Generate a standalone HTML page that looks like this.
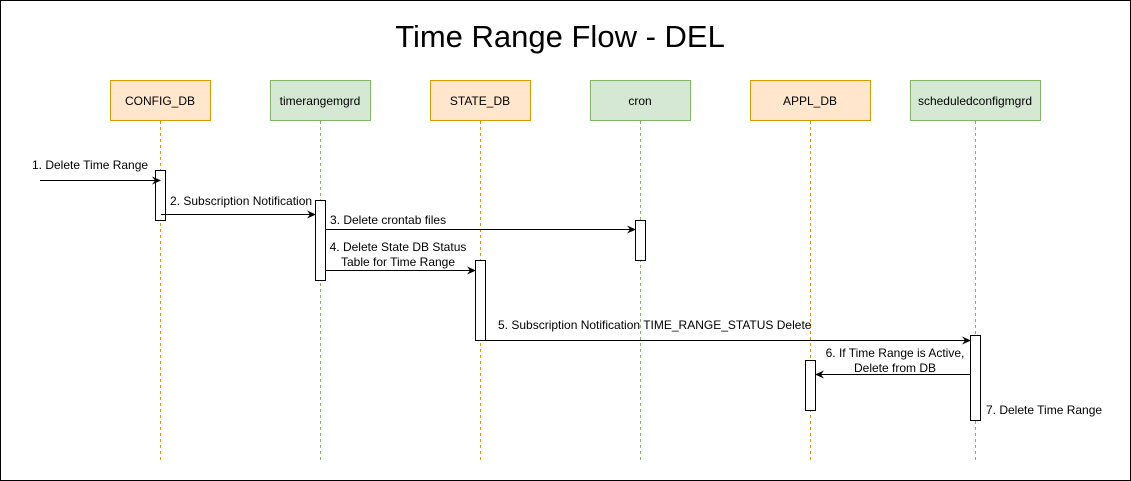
<!DOCTYPE html>
<html><head><meta charset="utf-8"><style>
html,body{margin:0;padding:0;background:#fff}
svg{display:block}
text{font-family:"Liberation Sans",Arial,sans-serif;font-size:12px;fill:#000}
</style></head><body>
<svg width="1131" height="481" viewBox="0 0 1131 481" xmlns="http://www.w3.org/2000/svg">
<defs><marker id="a" markerWidth="10" markerHeight="10" refX="8" refY="5" orient="auto" markerUnits="userSpaceOnUse"><path d="M0,1 L9,5 L0,9 L3,5 Z" fill="#000"/></marker></defs>
<rect x="0.5" y="0.5" width="1130" height="480" fill="#fff" stroke="#000"/>
<text x="560" y="47" text-anchor="middle" style="font-size:31px">Time Range Flow - DEL</text>
<g stroke-dasharray="3,3" stroke-width="1">
<line x1="160.5" y1="121" x2="160.5" y2="460" stroke="#d79b00"/>
<line x1="320.5" y1="121" x2="320.5" y2="460" stroke="#82b366"/>
<line x1="480.5" y1="121" x2="480.5" y2="460" stroke="#d79b00"/>
<line x1="640.5" y1="121" x2="640.5" y2="460" stroke="#82b366"/>
<line x1="810.5" y1="121" x2="810.5" y2="460" stroke="#d79b00"/>
<line x1="975.5" y1="121" x2="975.5" y2="460" stroke="#82b366"/>
</g>
<rect x="110.5" y="80.5" width="100" height="40" fill="#ffe6cc" stroke="#d79b00"/>
<text x="160" y="105" text-anchor="middle">CONFIG_DB</text>
<rect x="270.5" y="80.5" width="100" height="40" fill="#d5e8d4" stroke="#82b366"/>
<text x="320" y="105" text-anchor="middle">timerangemgrd</text>
<rect x="430.5" y="80.5" width="100" height="40" fill="#ffe6cc" stroke="#d79b00"/>
<text x="480" y="105" text-anchor="middle">STATE_DB</text>
<rect x="590.5" y="80.5" width="100" height="40" fill="#d5e8d4" stroke="#82b366"/>
<text x="640" y="105" text-anchor="middle">cron</text>
<rect x="750.5" y="80.5" width="120" height="40" fill="#ffe6cc" stroke="#d79b00"/>
<text x="810" y="105" text-anchor="middle">APPL_DB</text>
<rect x="910.5" y="80.5" width="130" height="40" fill="#d5e8d4" stroke="#82b366"/>
<text x="975" y="105" text-anchor="middle">scheduledconfigmgrd</text>
<g fill="#fff" stroke="#000">
<rect x="155.5" y="170.5" width="10" height="50"/>
<rect x="315.5" y="200.5" width="10" height="80"/>
<rect x="635.5" y="220.5" width="10" height="40"/>
<rect x="475.5" y="260.5" width="10" height="80"/>
<rect x="970.5" y="335.5" width="10" height="85"/>
<rect x="805.5" y="360.5" width="10" height="50"/>
</g>
<g stroke="#000" stroke-width="1" marker-end="url(#a)">
<line x1="40" y1="180.5" x2="160" y2="180.5"/>
<line x1="161" y1="214.5" x2="315" y2="214.5"/>
<line x1="326" y1="229.5" x2="635" y2="229.5"/>
<line x1="326" y1="270.5" x2="475" y2="270.5"/>
<line x1="486" y1="340.5" x2="970" y2="340.5"/>
<line x1="970" y1="374.5" x2="816" y2="374.5"/>
</g>
<text x="32" y="169">1. Delete Time Range</text>
<text x="170" y="205">2. Subscription Notification</text>
<text x="330" y="224">3. Delete crontab files</text>
<text x="398" y="251" text-anchor="middle">4. Delete State DB Status</text>
<text x="398" y="266" text-anchor="middle">Table for Time Range</text>
<text x="498" y="329">5. Subscription Notification TIME_RANGE_STATUS Delete</text>
<text x="895" y="357" text-anchor="middle">6. If Time Range is Active,</text>
<text x="895" y="372" text-anchor="middle">Delete from DB</text>
<text x="986" y="414">7. Delete Time Range</text>
</svg>
</body></html>
